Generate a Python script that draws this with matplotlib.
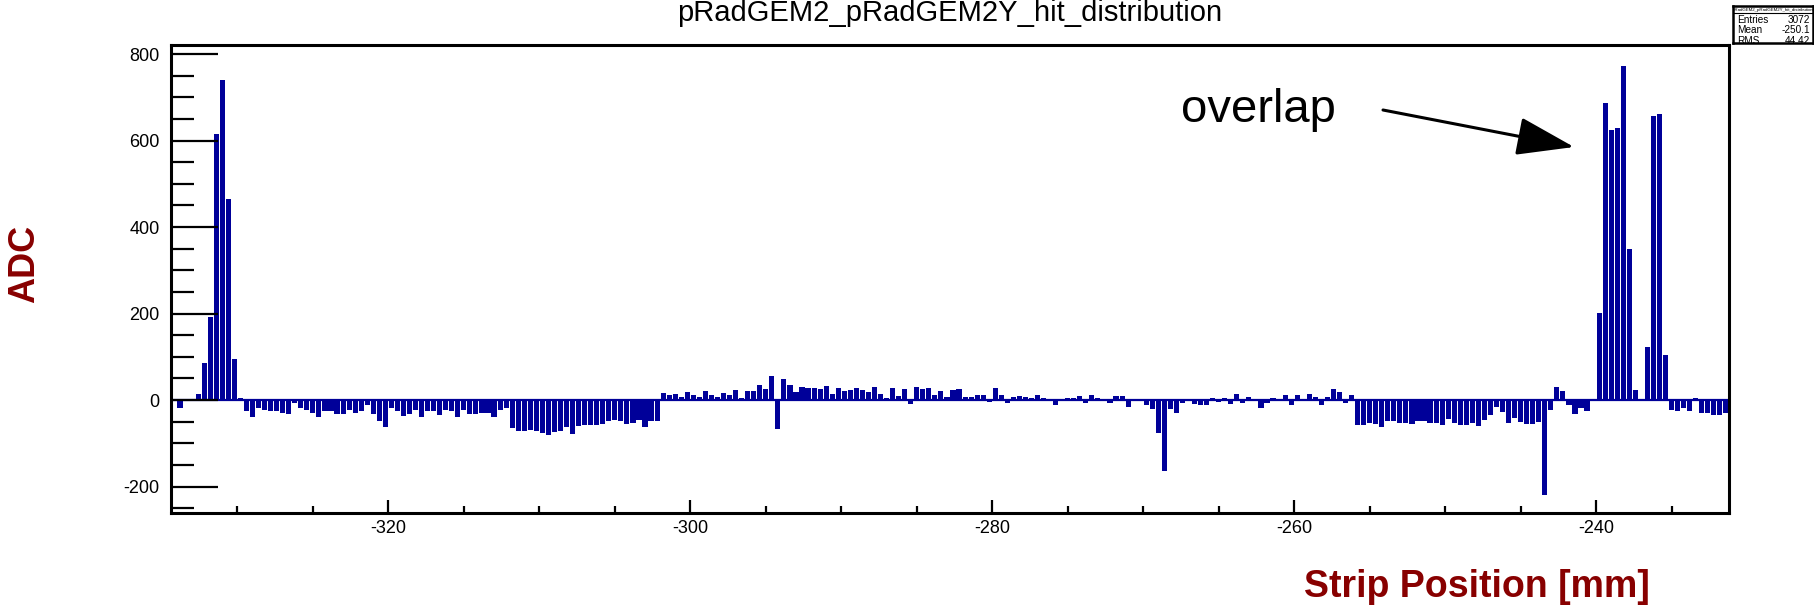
import numpy as np
import matplotlib
matplotlib.use("Agg")
import matplotlib.pyplot as plt
from matplotlib.ticker import MultipleLocator

plt.rcParams['font.family'] = ['Liberation Sans', 'DejaVu Sans']
plt.rcParams['axes.unicode_minus'] = False

# histogram binning (strip pitch 0.4 mm)
x_lo = -334.4
x_hi = -231.2
bin_w = 0.4

# ADC sum per strip bin
adc = [
    3, -18, 0, 0, 14, 85, 192, 615, 740, 465, 95, 4,
    -25, -40, -18, -22, -26, -26, -30, -32, -7, -18, -22, -30,
    -38, -26, -26, -32, -32, -22, -30, -26, -11, -32, -49, -61,
    -18, -25, -36, -32, -22, -38, -26, -26, -34, -22, -26, -39,
    -22, -32, -32, -30, -30, -39, -22, -18, -65, -72, -72, -70,
    -72, -76, -80, -74, -72, -61, -79, -59, -58, -57, -57, -55,
    -49, -47, -48, -55, -54, -45, -63, -49, -49, 16, 12, 14,
    8, 18, 11, 8, 20, 12, 8, 16, 12, 24, 6, 22,
    22, 35, 25, 55, -66, 49, 35, 18, 30, 28, 28, 25,
    33, 14, 28, 20, 24, 28, 24, 18, 30, 15, 5, 28,
    10, 25, -8, 30, 25, 28, 12, 22, 7, 24, 25, 8,
    7, 12, 12, -5, 28, 12, -7, 7, 10, 8, 6, 12,
    5, 2, -12, -3, 6, 5, 10, -7, 12, 5, 2, -7,
    10, 10, -17, 0, 0, -11, -21, -76, -163, -21, -30, -7,
    -3, -8, -11, -11, 5, -5, 5, -8, 15, -7, 8, 2,
    -18, -7, 5, 2, 12, -12, 11, -3, 14, 8, -11, 8,
    25, 18, -7, 11, -58, -57, -53, -55, -63, -48, -49, -53,
    -53, -55, -49, -49, -53, -53, -57, -43, -53, -58, -57, -53,
    -59, -45, -35, -17, -28, -53, -42, -50, -55, -55, -50, -220,
    -22, 31, 20, -12, -32, -18, -25, -3, 201, 686, 624, 628,
    773, 350, 24, 0, 122, 657, 661, 104, -22, -24, -19, -24,
    5, -30, -29, -35, -35, -30,
]

hist_title = "pRadGEM2_pRadGEM2Y_hit_distribution"
stats_rows = [("Entries", "3072"), ("Mean", "-250.1"), ("RMS", "44.42")]

bar_color = "#000099"
label_color = "#880000"

fig = plt.figure(figsize=(18.15, 6.09), dpi=100)
ax = fig.add_axes([0.0942, 0.1576, 0.8584, 0.7685])

centers = x_lo + bin_w * (np.arange(len(adc)) + 0.5)
ax.bar(centers, adc, width=bin_w * 0.85, color=bar_color, edgecolor="none", zorder=1)
ax.axhline(0, color=bar_color, lw=1.6, zorder=1.2)

ax.set_xlim(x_lo, x_hi)
ax.set_ylim(-261, 821)
ax.set_axisbelow(False)

for s in ax.spines.values():
    s.set_linewidth(2.2)

ax.yaxis.set_major_locator(MultipleLocator(200))
ax.yaxis.set_minor_locator(MultipleLocator(50))
ax.xaxis.set_major_locator(MultipleLocator(20))
ax.xaxis.set_minor_locator(MultipleLocator(5))
ax.tick_params(axis="y", which="major", direction="in", length=34, width=1.6,
               labelsize=13, pad=8, right=False)
ax.tick_params(axis="y", which="minor", direction="in", length=16.5, width=1.6, right=False)
ax.tick_params(axis="x", which="major", direction="in", length=9.5, width=1.6,
               labelsize=13, pad=5, top=False)
ax.tick_params(axis="x", which="minor", direction="in", length=5, width=1.6, top=False)

# titles
fig.text(0.523, 0.979, hist_title, ha="center", va="center", fontsize=21)
fig.text(0.0138, 0.5665, "ADC", rotation=90, ha="center", va="center",
         fontsize=26, fontweight="bold", color=label_color)
fig.text(0.909, 0.036, "Strip Position [mm]", ha="right", va="center",
         fontsize=27, fontweight="bold", color=label_color)

# annotation
fig.text(0.6507, 0.819, "overlap", ha="left", va="center", fontsize=34)
ax.annotate("", xy=(1574, 462), xycoords="figure pixels",
            xytext=(1383, 499), textcoords="figure pixels",
            arrowprops=dict(arrowstyle="-|>,head_length=1.8,head_width=0.6",
                            mutation_scale=20, lw=2.2, color="black",
                            shrinkA=0, shrinkB=0))

# stats box (clipped at its lower edge like the original)
sb = fig.add_axes([0.9548, 0.9294, 0.0441, 0.0606])
sb.set_xlim(0, 1)
sb.set_ylim(0, 1)
sb.set_xticks([])
sb.set_yticks([])
for s in sb.spines.values():
    s.set_linewidth(1.8)
sb.axhline(0.8, color="black", lw=0.8)
sb.text(0.5, 0.9, hist_title, ha="center", va="center", fontsize=3.2, clip_on=True)
for i, (name, val) in enumerate(stats_rows):
    y = 0.63 - i * 0.29
    sb.text(0.05, y, name, ha="left", va="center", fontsize=7.2, clip_on=True)
    sb.text(0.96, y, val, ha="right", va="center", fontsize=7.2, clip_on=True)

fig.savefig("out.png", dpi=100)
